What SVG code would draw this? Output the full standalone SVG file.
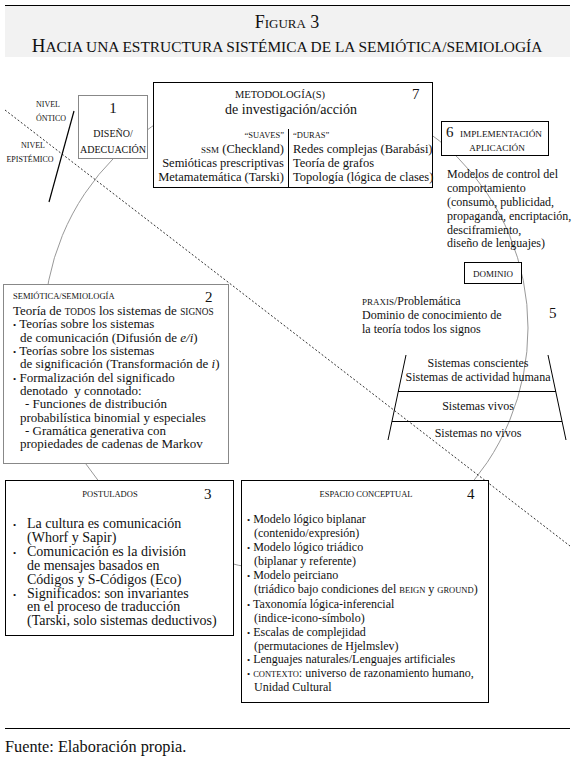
<svg xmlns="http://www.w3.org/2000/svg" width="574" height="761" viewBox="0 0 574 761">
<style>
text{font-family:"Liberation Serif","Times New Roman",serif;fill:#111;}
.b{font-size:12px;}
.b2{font-size:13px;}
.b3{font-size:14px;}
.sc{font-size:8.5px;}
.num{font-size:15px;}
.mid{text-anchor:middle;}
.end{text-anchor:end;}
.boxk{fill:#fff;stroke:#000;stroke-width:1;}
.boxg{fill:#fff;stroke:#888;stroke-width:1;}
.ttl{text-anchor:middle;}
.bu{font-size:9px;}
</style>
<rect x="0" y="0" width="574" height="761" fill="#fff"/>
<g id="title">
<rect x="5" y="6" width="565" height="51" fill="#f2f2f2"/>
<line x1="5" y1="5.5" x2="570" y2="5.5" stroke="#000" stroke-width="1"/>
<text class="ttl" x="287" y="28" style="font-size:18px;font-variant:small-caps">Figura 3</text>
<text class="ttl" x="287" y="52" style="font-size:19px">H<tspan style="font-size:15.4px">ACIA UNA ESTRUCTURA SISTÉMICA DE LA SEMIÓTICA/SEMIOLOGÍA</tspan></text>
</g>
<g id="connectors" fill="none">
<circle cx="286" cy="328" r="242" stroke="#999" stroke-width="1"/>
<line x1="5" y1="110" x2="570" y2="546" stroke="#333" stroke-width="1" stroke-dasharray="2 2"/>
<line x1="74" y1="111" x2="49" y2="202" stroke="#000" stroke-width="1.2"/>
</g>
<g id="niveles">
<text class="mid" x="48" y="107" style="font-size:8px">NIVEL</text>
<text class="mid" x="51" y="121" style="font-size:8px">ÓNTICO</text>
<text class="mid" x="33" y="148" style="font-size:8px">NIVEL</text>
<text class="mid" x="30" y="162" style="font-size:8px">EPISTÉMICO</text>
</g>
<g id="n1">
<rect class="boxg" x="78.5" y="95.5" width="69" height="63"/>
<text class="num mid" x="113" y="113">1</text>
<text class="mid" x="113" y="137" style="font-size:10px">DISEÑO/</text>
<text class="mid" x="113" y="153" style="font-size:10px">ADECUACIÓN</text>
</g>
<g id="n7">
<rect class="boxk" x="153.5" y="82.5" width="279" height="105"/>
<text class="mid" x="280" y="98" style="font-size:10.5px">METODOLOGÍA(S)</text>
<text class="num" x="412" y="99">7</text>
<text class="mid" x="291" y="114" style="font-size:14px">de investigación/acción</text>
<line x1="288.5" y1="129" x2="288.5" y2="187" stroke="#000" stroke-width="1"/>
<text class="end" x="284" y="138" style="font-size:8.5px">“SUAVES”</text>
<text class="end" x="284" y="153" style="font-size:12.5px"><tspan style="font-size:9px">SSM</tspan> (Checkland)</text>
<text class="end" x="284" y="167" style="font-size:12.5px">Semióticas prescriptivas</text>
<text class="end" x="284" y="181" style="font-size:12.5px">Metamatemática (Tarski)</text>
<text x="293" y="138" style="font-size:8.5px">“DURAS”</text>
<text x="293" y="153" style="font-size:12.5px">Redes complejas (Barabási)</text>
<text x="293" y="167" style="font-size:12.5px">Teoría de grafos</text>
<text x="293" y="181" style="font-size:12.5px">Topología (lógica de clases)</text>
</g>
<g id="n6">
<rect class="boxk" x="441.5" y="121.5" width="107" height="34"/>
<text class="num" x="446" y="137">6</text>
<text x="460" y="137" style="font-size:9.2px">IMPLEMENTACIÓN</text>
<text class="mid" x="497" y="151" style="font-size:9.2px">APLICACIÓN</text>
<text class="b" x="447" y="178">Modelos de control del</text>
<text class="b" x="447" y="192">comportamiento</text>
<text class="b" x="447" y="206">(consumo, publicidad,</text>
<text class="b" x="447" y="220">propaganda, encriptación,</text>
<text class="b" x="447" y="234">desciframiento,</text>
<text class="b" x="447" y="247">diseño de lenguajes)</text>
</g>
<g id="dominio">
<rect class="boxk" x="464.5" y="262.5" width="57" height="21"/>
<text class="mid" x="493" y="277" style="font-size:9px">DOMINIO</text>
</g>
<g id="n2">
<rect class="boxg" x="3.5" y="284.5" width="225" height="179"/>
<text class="sc" x="13" y="299">SEMIÓTICA/SEMIOLOGÍA</text>
<text class="num" x="205" y="302">2</text>
<text class="b2" x="13" y="315">Teoría de <tspan style="font-size:9.3px">TODOS</tspan> los sistemas de <tspan style="font-size:9.3px">SIGNOS</tspan></text>
<text class="b2" x="13" y="328"><tspan class="bu">•</tspan> Teorías sobre los sistemas</text>
<text class="b2" x="20" y="342">de comunicación (Difusión de <tspan font-style="italic">e/i</tspan>)</text>
<text class="b2" x="13" y="355"><tspan class="bu">•</tspan> Teorías sobre los sistemas</text>
<text class="b2" x="20" y="368">de significación (Transformación de <tspan font-style="italic">i</tspan>)</text>
<text class="b2" x="13" y="382"><tspan class="bu">•</tspan> Formalización del significado</text>
<text class="b2" x="20" y="395" xml:space="preserve">denotado  y connotado:</text>
<text class="b2" x="25" y="408">- Funciones de distribución</text>
<text class="b2" x="20" y="422">probabilística binomial y especiales</text>
<text class="b2" x="25" y="435">- Gramática generativa con</text>
<text class="b2" x="20" y="448">propiedades de cadenas de Markov</text>
</g>
<g id="n5">
<text class="b" x="362" y="305"><tspan style="font-size:9px">PRAXIS</tspan>/Problemática</text>
<text class="b" x="362" y="319">Dominio de conocimiento de</text>
<text class="b" x="362" y="333">la teoría todos los signos</text>
<text class="num" x="549" y="318">5</text>
<g fill="none" stroke="#000" stroke-width="1">
<line x1="406" y1="355" x2="388" y2="440"/>
<line x1="548" y1="355" x2="566" y2="440"/>
<line x1="398" y1="391.5" x2="556" y2="391.5"/>
<line x1="392" y1="421.5" x2="562" y2="421.5"/>
</g>
<text class="b mid" x="478" y="367">Sistemas conscientes</text>
<text class="b mid" x="478" y="381">Sistemas de actividad humana</text>
<text class="b mid" x="478" y="410">Sistemas vivos</text>
<text class="b mid" x="478" y="437">Sistemas no vivos</text>
</g>
<g id="n3">
<rect class="boxk" x="5.5" y="480.5" width="228" height="155"/>
<text class="sc mid" x="110" y="497">POSTULADOS</text>
<text class="num" x="204" y="499">3</text>
<text class="bu" x="13" y="528">•</text>
<text class="b3" x="27" y="528">La cultura es comunicación</text>
<text class="b3" x="27" y="542">(Whorf y Sapir)</text>
<text class="bu" x="13" y="556">•</text>
<text class="b3" x="27" y="556">Comunicación es la división</text>
<text class="b3" x="27" y="570">de mensajes basados en</text>
<text class="b3" x="27" y="584">Códigos y S-Códigos (Eco)</text>
<text class="bu" x="13" y="598">•</text>
<text class="b3" x="27" y="598">Significados: son invariantes</text>
<text class="b3" x="27" y="611">en el proceso de traducción</text>
<text class="b3" x="27" y="625">(Tarski, solo sistemas deductivos)</text>
</g>
<g id="n4">
<rect class="boxk" x="241.5" y="480.5" width="247" height="222"/>
<text class="sc mid" x="366" y="497">ESPACIO CONCEPTUAL</text>
<text class="num" x="467" y="499">4</text>
<text class="b" x="247" y="523"><tspan class="bu">•</tspan> Modelo lógico biplanar</text>
<text class="b" x="254" y="537">(contenido/expresión)</text>
<text class="b" x="247" y="551"><tspan class="bu">•</tspan> Modelo lógico triádico</text>
<text class="b" x="254" y="565">(biplanar y referente)</text>
<text class="b" x="247" y="579"><tspan class="bu">•</tspan> Modelo peirciano</text>
<text class="b" x="254" y="593">(triádico bajo condiciones del <tspan style="font-size:8.5px">BEIGN</tspan> y <tspan style="font-size:8.5px">GROUND</tspan>)</text>
<text class="b" x="247" y="608"><tspan class="bu">•</tspan> Taxonomía lógica-inferencial</text>
<text class="b" x="254" y="622">(indice-icono-símbolo)</text>
<text class="b" x="247" y="636"><tspan class="bu">•</tspan> Escalas de complejidad</text>
<text class="b" x="254" y="650">(permutaciones de Hjelmslev)</text>
<text class="b" x="247" y="663"><tspan class="bu">•</tspan> Lenguajes naturales/Lenguajes artificiales</text>
<text class="b" x="247" y="677"><tspan class="bu">•</tspan> <tspan style="font-size:8.5px">CONTEXTO</tspan>: universo de razonamiento humano,</text>
<text class="b" x="254" y="691">Unidad Cultural</text>
</g>
<g id="fuente">
<line x1="5" y1="728.5" x2="570" y2="728.5" stroke="#000" stroke-width="1"/>
<text x="5" y="752" style="font-size:16.3px">Fuente: Elaboración propia.</text>
</g>
</svg>
